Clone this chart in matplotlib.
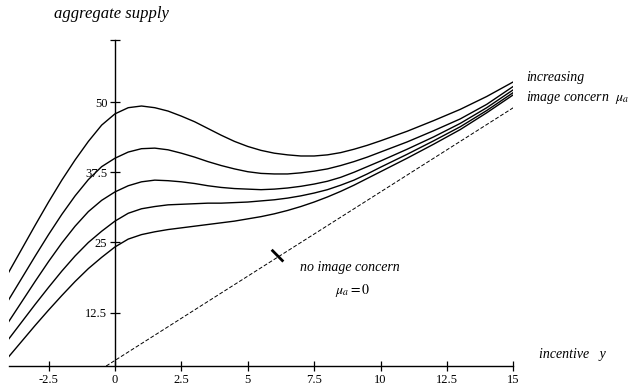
import matplotlib
matplotlib.use("Agg")
import matplotlib.pyplot as plt

plt.rcParams['font.family'] = ['Liberation Serif', 'DejaVu Serif']
plt.rcParams['mathtext.fontset'] = 'stix'

x_vals = [-4, -3.5, -3, -2.5, -2, -1.5, -1, -0.5, 0, 0.5, 1, 1.5, 2, 2.5, 3, 3.5,
          4, 4.5, 5, 5.5, 6, 6.5, 7, 7.5, 8, 8.5, 9, 9.5, 10, 11, 12, 13, 14, 15]

# aggregate supply, from highest to lowest image concern
supply_1 = [19.7, 23.9, 28.1, 32.2, 36.1, 39.7, 43.0, 45.9, 47.9, 49.0, 49.3, 49.0, 48.4, 47.5,
            46.5, 45.3, 44.1, 43.0, 42.1, 41.4, 40.9, 40.6, 40.4, 40.4, 40.6, 41.0, 41.6, 42.3,
            43.1, 44.8, 46.7, 48.7, 51.0, 53.6]
supply_2 = [14.8, 18.7, 22.6, 26.4, 30.0, 33.3, 36.2, 38.5, 40.0, 41.1, 41.7, 41.8, 41.5, 40.9,
            40.2, 39.4, 38.7, 38.1, 37.6, 37.3, 37.2, 37.2, 37.4, 37.7, 38.1, 38.7, 39.4, 40.2,
            41.1, 42.9, 44.9, 47.0, 49.6, 52.8]
supply_3 = [10.9, 14.5, 18.1, 21.6, 24.9, 27.9, 30.5, 32.5, 34.0, 35.1, 35.8, 36.1, 36.0, 35.8,
            35.5, 35.1, 34.8, 34.6, 34.5, 34.4, 34.5, 34.7, 35.0, 35.4, 35.9, 36.6, 37.5, 38.5,
            39.5, 41.6, 43.8, 46.2, 49.0, 52.2]
supply_4 = [7.8, 10.9, 14.0, 17.0, 19.9, 22.6, 25.0, 27.0, 28.8, 30.2, 31.0, 31.4, 31.7, 31.8,
            31.9, 32.0, 32.0, 32.1, 32.2, 32.4, 32.6, 32.9, 33.3, 33.8, 34.4, 35.2, 36.1, 37.2,
            38.4, 40.7, 43.1, 45.6, 48.5, 51.7]
supply_5 = [4.65, 7.45, 10.25, 12.95, 15.55, 18.05, 20.35, 22.35, 24.2, 25.6, 26.4, 26.9, 27.3,
            27.6, 27.9, 28.2, 28.5, 28.8, 29.2, 29.6, 30.1, 30.7, 31.4, 32.2, 33.1, 34.1, 35.2,
            36.4, 37.6, 40.0, 42.5, 45.1, 48.1, 51.3]
curves = [supply_1, supply_2, supply_3, supply_4, supply_5]

# no image concern (straight line)
base_x = [-0.33, 15]
base_y = [3.0, 49.0]
mark_x = [5.9, 6.34]
mark_y = [23.7, 21.6]

x_ticks = [-2.5, 0, 2.5, 5, 7.5, 10, 12.5, 15]
x_labels = ['-2.5', '0', '2.5', '5', '7.5', '10', '12.5', '15']
y_ticks = [12.5, 25, 37.5, 50, 61]
y_labels = ['12.5', '25', '37.5', '50', '']

fig = plt.figure(figsize=(6.31, 3.88), dpi=100)
ax = fig.add_axes([0.0138, 0.0567, 0.7997, 0.8394])

for ys in curves:
    ax.plot(x_vals, ys, color='black', lw=1.0)

ax.plot(base_x, base_y, color='black', lw=0.7, linestyle=(0, (4, 2)))
ax.plot(mark_x, mark_y, color='black', lw=2.0, solid_capstyle='butt')

ax.set_xlim(-4, 15)
ax.set_ylim(3, 61)
ax.spines['left'].set_position(('data', 0))
ax.spines['top'].set_visible(False)
ax.spines['right'].set_visible(False)
for s in ['left', 'bottom']:
    ax.spines[s].set_linewidth(1.0)

ax.set_xticks(x_ticks)
ax.set_xticklabels(x_labels)
ax.set_yticks(y_ticks)
ax.set_yticklabels(y_labels)
ax.tick_params(direction='inout', length=7, width=0.9, labelsize=9, pad=2)

txt = dict(fontsize=10, style='italic', va='center', ha='left', clip_on=False)
ax.text(-2.3, 65.6, 'aggregate supply', **{**txt, 'fontsize': 12})
ax.text(15.47, 54.3, 'increasing', **txt)
ax.text(15.47, 50.9, r'image concern  $\mu_a$', **txt)
ax.text(15.96, 5.1, 'incentive   y', **txt)
ax.text(6.97, 20.6, 'no image concern', **txt)
ax.text(8.28, 16.4, r'$\mu_a = 0$', fontsize=10, va='center', ha='left')

fig.savefig('out.png', dpi=100)
